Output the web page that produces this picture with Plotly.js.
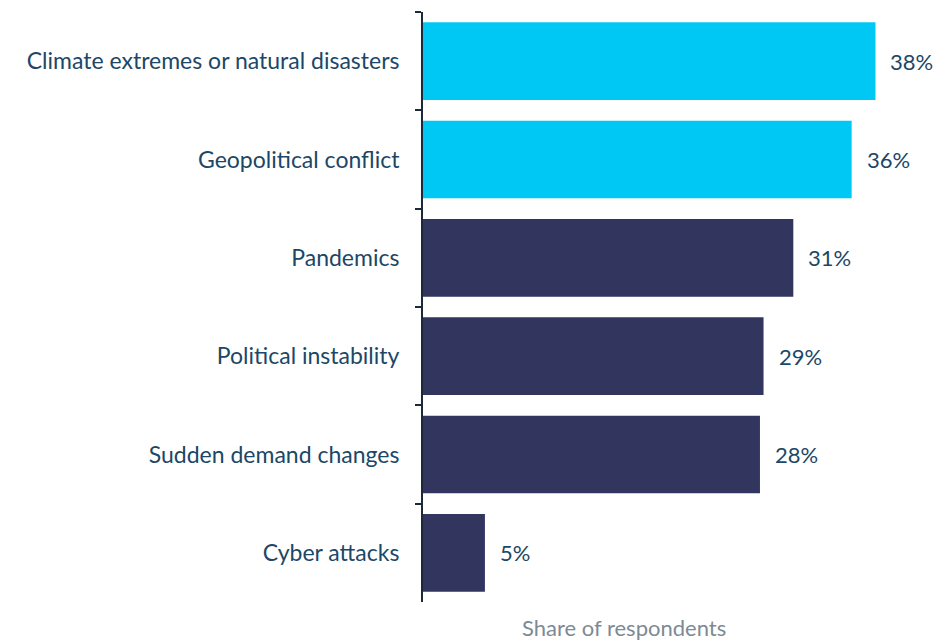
<!DOCTYPE html>
<html><head><meta charset="utf-8">
<script src="https://cdn.plot.ly/plotly-3.0.1.min.js"></script>
<style>html,body{margin:0;padding:0;background:#fff}#chart{width:938px;height:643px}</style>
</head><body><div id="chart"></div>
<script>
const categories = ["Climate extremes or natural disasters","Geopolitical conflict","Pandemics","Political instability","Sudden demand changes","Cyber attacks"];
const values = [38, 36, 31.1, 28.6, 28.3, 5.2];
const labels = ["38%","36%","31%","29%","28%","5%"];
const barColors = ["#00C8F5","#00C8F5","#32355E","#32355E","#32355E","#32355E"];

const FONT = "Lato, 'Open Sans', sans-serif";
const trace = {
  type: "bar", orientation: "h",
  x: values, y: categories,
  marker: {color: barColors},
  hoverinfo: "none"
};
const annotations = values.map((v, i) => ({
  x: v, y: categories[i], xref: "x", yref: "y",
  text: labels[i], showarrow: false, xanchor: "left", xshift: 13,
  font: {family: FONT, size: 22, color: "#1C4766"}
}));
annotations.push({
  x: 0.393, y: 0, xref: "paper", yref: "paper", yanchor: "top", yshift: -10,
  xanchor: "center", showarrow: false, text: "Share of respondents",
  font: {family: FONT, size: 22, color: "#7D8A94"}
});
const layout = {
  width: 938, height: 643,
  margin: {l: 423, r: 3, t: 12, b: 41},
  paper_bgcolor: "#fff", plot_bgcolor: "#fff",
  bargap: 0.21,
  showlegend: false,
  xaxis: {range: [0, 43], visible: false, fixedrange: true},
  yaxis: {
    autorange: "reversed", type: "category",
    showline: true, linecolor: "#1B2A3A", linewidth: 2,
    ticks: "outside", tickson: "boundaries", ticklen: 6, tickwidth: 2, tickcolor: "#1B2A3A",
    ticklabelstandoff: 17,
    tickfont: {family: FONT, size: 23, color: "#1C4766"},
    showgrid: false, zeroline: false
  },
  annotations: annotations
};
Plotly.newPlot("chart", [trace], layout, {displayModeBar: false, staticPlot: true});
</script></body></html>
